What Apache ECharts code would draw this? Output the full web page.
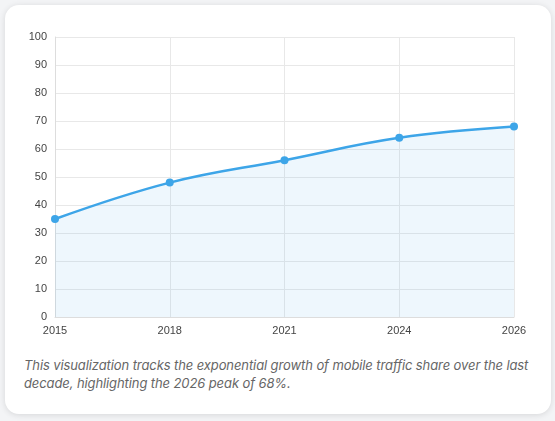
<!DOCTYPE html>
<html>
<head>
<meta charset="utf-8">
<script src="https://cdn.jsdelivr.net/npm/echarts@6/dist/echarts.min.js"></script>
<style>
  body { margin: 0; background: #f3f4f6; font-family: Inter, "Noto Sans", sans-serif; }
  .card {
    position: absolute; left: 5px; top: 5px; width: 546px; height: 409px;
    background: #fff; border-radius: 14px; box-shadow: 0 1px 6px rgba(0,0,0,0.12);
  }
  #chart { position: absolute; left: 0; top: 0; width: 555px; height: 340px; }
  .caption {
    position: absolute; left: 24px; top: 356px; width: 522px;
    font-size: 13px; font-style: italic; color: #666; line-height: 18px;
    letter-spacing: -0.1px;
  }
</style>
</head>
<body>
<div class="card"></div>
<div id="chart"></div>
<div class="caption">This visualization tracks the exponential growth of mobile traffic share over the last decade, highlighting the 2026 peak of 68%.</div>
<script>
  const years = ["2015", "2018", "2021", "2024", "2026"]
  const share = [35, 48, 56, 64, 68]

  const chart = echarts.init(document.getElementById("chart"))
  chart.setOption({
    animation: false,
    grid: { left: 55, right: 41, top: 37, bottom: 23 },
    xAxis: {
      type: "category",
      data: years,
      boundaryGap: false,
      axisLine: { lineStyle: { color: "#ddd" } },
      axisTick: { show: false },
      axisLabel: { color: "#444", fontSize: 11, fontWeight: 500, margin: 8 },
      splitLine: { show: true, lineStyle: { color: "#e8e8e8" } }
    },
    yAxis: {
      type: "value",
      min: 0, max: 100, interval: 10,
      axisLine: { show: true, lineStyle: { color: "#ddd" } },
      axisLabel: { color: "#444", fontSize: 11, fontWeight: 500, margin: 8 },
      splitLine: { lineStyle: { color: "#e8e8e8" } }
    },
    series: [{
      type: "line",
      data: share,
      smooth: 0.4,
      symbol: "circle",
      symbolSize: 8,
      lineStyle: { color: "#3da5e8", width: 2.5 },
      itemStyle: { color: "#3da5e8" },
      areaStyle: { color: "rgba(61,165,232,0.12)" }
    }]
  })
</script>
</body>
</html>
